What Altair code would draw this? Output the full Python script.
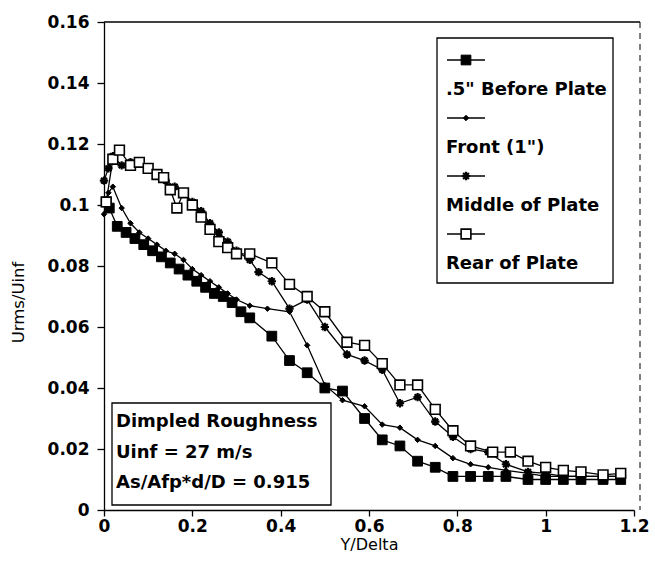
import altair as alt
import pandas as pd

FONT = "DejaVu Sans"

series_names = ['.5" Before Plate', 'Front (1")', 'Middle of Plate', 'Rear of Plate']

# .5" Before Plate (filled squares)
a_x = [0.005, 0.012, 0.03, 0.05, 0.07, 0.09, 0.11, 0.13, 0.15, 0.17, 0.19, 0.21, 0.23, 0.25,
       0.27, 0.29, 0.31, 0.33, 0.38, 0.42, 0.46, 0.50, 0.54, 0.59, 0.63, 0.67, 0.71, 0.75,
       0.79, 0.83, 0.87, 0.91, 0.96, 1.00, 1.04, 1.08, 1.13, 1.17]
a_y = [0.101, 0.099, 0.093, 0.091, 0.089, 0.087, 0.085, 0.083, 0.081, 0.079, 0.077, 0.075,
       0.073, 0.071, 0.070, 0.068, 0.065, 0.063, 0.057, 0.049, 0.045, 0.040, 0.039, 0.030,
       0.023, 0.021, 0.016, 0.014, 0.011, 0.011, 0.011, 0.011, 0.010, 0.010, 0.010, 0.010,
       0.010, 0.010]

# Front (1") (small diamonds)
b_x = [0.0, 0.01, 0.02, 0.04, 0.06, 0.08, 0.10, 0.12, 0.14, 0.16, 0.18, 0.20, 0.22, 0.24,
       0.26, 0.28, 0.30, 0.33, 0.37, 0.42, 0.46, 0.50, 0.54, 0.59, 0.63, 0.67, 0.71, 0.75,
       0.79, 0.83, 0.87, 0.91, 0.96, 1.00, 1.04, 1.08, 1.13, 1.17]
b_y = [0.097, 0.104, 0.106, 0.099, 0.094, 0.091, 0.089, 0.087, 0.085, 0.084, 0.082, 0.079,
       0.077, 0.075, 0.073, 0.071, 0.069, 0.067, 0.066, 0.065, 0.054, 0.041, 0.036, 0.034,
       0.028, 0.027, 0.023, 0.021, 0.017, 0.015, 0.014, 0.013, 0.012, 0.011, 0.011, 0.011,
       0.011, 0.011]

# Middle of Plate (asterisks)
c_x = [0.0, 0.01, 0.02, 0.04, 0.06, 0.08, 0.10, 0.12, 0.14, 0.16, 0.18, 0.20, 0.22, 0.24,
       0.26, 0.28, 0.30, 0.33, 0.35, 0.38, 0.42, 0.46, 0.50, 0.55, 0.59, 0.63, 0.67, 0.71,
       0.75, 0.79, 0.83, 0.87, 0.91, 0.96, 1.00, 1.04, 1.08, 1.13, 1.17]
c_y = [0.108, 0.112, 0.116, 0.113, 0.114, 0.114, 0.112, 0.110, 0.108, 0.106, 0.104, 0.101,
       0.098, 0.094, 0.091, 0.088, 0.085, 0.082, 0.078, 0.075, 0.066, 0.069, 0.060, 0.051,
       0.049, 0.046, 0.035, 0.037, 0.029, 0.024, 0.020, 0.019, 0.015, 0.0125, 0.012, 0.011,
       0.011, 0.011, 0.011]

# Rear of Plate (open squares)
d_x = [0.005, 0.02, 0.035, 0.06, 0.08, 0.10, 0.12, 0.135, 0.15, 0.165, 0.18, 0.20, 0.22,
       0.24, 0.26, 0.28, 0.30, 0.33, 0.38, 0.42, 0.46, 0.50, 0.55, 0.59, 0.63, 0.67, 0.71,
       0.75, 0.79, 0.83, 0.88, 0.92, 0.96, 1.00, 1.04, 1.08, 1.13, 1.17]
d_y = [0.101, 0.115, 0.118, 0.113, 0.114, 0.112, 0.110, 0.109, 0.105, 0.099, 0.104, 0.100,
       0.096, 0.092, 0.088, 0.086, 0.084, 0.084, 0.081, 0.074, 0.070, 0.065, 0.055, 0.054,
       0.048, 0.041, 0.041, 0.033, 0.026, 0.021, 0.019, 0.019, 0.016, 0.014, 0.013, 0.0125,
       0.0115, 0.012]

x_ticks = [0, 0.2, 0.4, 0.6, 0.8, 1.0, 1.2]
y_ticks = [0, 0.02, 0.04, 0.06, 0.08, 0.1, 0.12, 0.14, 0.16]
note_lines = ["Dimpled Roughness", "Uinf = 27 m/s", "As/Afp*d/D = 0.915"]

W, H = 530, 488

ASTERISK = "M-1,0L1,0M0,-1L0,1M-0.7,-0.7L0.7,0.7M-0.7,0.7L0.7,-0.7"

marker_styles = [
    dict(shape="square", filled=True, fill="black", stroke="black", size=95, strokeWidth=1),
    dict(shape="diamond", filled=True, fill="black", stroke="black", size=30, strokeWidth=1),
    dict(shape=ASTERISK, filled=False, stroke="black", size=70, strokeWidth=2.2),
    dict(shape="square", filled=True, fill="white", stroke="black", size=95, strokeWidth=1.6),
]

xs = [a_x, b_x, c_x, d_x]
ys = [a_y, b_y, c_y, d_y]

x_enc = alt.X("x:Q", scale=alt.Scale(domain=[0, 1.2], nice=False, zero=False),
              axis=alt.Axis(values=x_ticks, format="~g", title="Y/Delta", grid=False,
                            tickSize=6, tickColor="black", domainColor="black",
                            labelFont=FONT, labelFontSize=17, labelFontWeight="bold",
                            labelColor="black", labelPadding=2, labelFlush=False,
                            titleFont=FONT, titleFontSize=16, titleFontWeight="normal",
                            titleColor="black", titlePadding=2, domainWidth=1.3, tickWidth=1.3))
y_enc = alt.Y("y:Q", scale=alt.Scale(domain=[0, 0.16], nice=False),
              axis=alt.Axis(values=y_ticks, format="~g", title="Urms/Uinf", grid=False,
                            tickSize=7, tickColor="black", domainColor="black",
                            labelFont=FONT, labelFontSize=17, labelFontWeight="bold",
                            labelColor="black", labelPadding=8, labelFlush=False,
                            titleFont=FONT, titleFontSize=16.5, titleFontWeight="normal",
                            titleColor="black", titleX=-86, titleY=280, titleAngle=270,
                            titleBaseline="middle", titleAlign="center",
                            domainWidth=1.3, tickWidth=1.3))

layers = []
for i in range(4):
    df = pd.DataFrame({"x": xs[i], "y": ys[i]})
    base = alt.Chart(df)
    layers.append(base.mark_line(color="black", strokeWidth=1.3).encode(x=x_enc, y=y_enc))
for i in range(4):
    df = pd.DataFrame({"x": xs[i], "y": ys[i]})
    layers.append(alt.Chart(df).mark_point(opacity=1, **marker_styles[i]).encode(x=x_enc, y=y_enc))

dummy = pd.DataFrame({"d": [0]})

# frame: top solid, right dashed
layers.append(alt.Chart(dummy).mark_rule(color="black", strokeWidth=1.3).encode(
    x=alt.value(0), x2=alt.value(W + 6), y=alt.value(0)))
layers.append(alt.Chart(dummy).mark_rule(color="black", strokeWidth=1, strokeDash=[6, 5]).encode(
    x=alt.value(W + 6), y=alt.value(0), y2=alt.value(H)))

# legend box
LX0, LY0, LX1, LY1 = 333, 16, 509, 261
layers.append(alt.Chart(dummy).mark_rect(fill="white", stroke="black", strokeWidth=1.3).encode(
    x=alt.value(LX0), x2=alt.value(LX1), y=alt.value(LY0), y2=alt.value(LY1)))
for i, name in enumerate(series_names):
    sy = 38 + 58 * i
    ty = 68 + 58 * i
    layers.append(alt.Chart(dummy).mark_rule(color="black", strokeWidth=1.3).encode(
        x=alt.value(343), x2=alt.value(381), y=alt.value(sy)))
    layers.append(alt.Chart(dummy).mark_point(opacity=1, **marker_styles[i]).encode(
        x=alt.value(362), y=alt.value(sy)))
    layers.append(alt.Chart(pd.DataFrame({"t": [name]})).mark_text(
        align="left", baseline="middle", font=FONT, fontSize=18, fontWeight="bold",
        color="black").encode(x=alt.value(342), y=alt.value(ty), text="t:N"))

# annotation box
layers.append(alt.Chart(dummy).mark_rect(fill="white", stroke="black", strokeWidth=1.3).encode(
    x=alt.value(8), x2=alt.value(227), y=alt.value(381), y2=alt.value(483)))
for j, line in enumerate(note_lines):
    layers.append(alt.Chart(pd.DataFrame({"t": [line]})).mark_text(
        align="left", baseline="middle", font=FONT, fontSize=18, fontWeight="bold",
        color="black").encode(x=alt.value(12), y=alt.value(400 + 30.5 * j), text="t:N"))

chart = alt.layer(*layers).properties(
    width=W, height=H,
    autosize=alt.AutoSizeParams(type="none"),
    padding={"left": 104, "top": 22, "right": 655 - 104 - W, "bottom": 572 - 22 - H},
    background="white",
).configure_view(stroke=None)

chart.save("out.html", embed_options={"renderer": "svg", "actions": False})
